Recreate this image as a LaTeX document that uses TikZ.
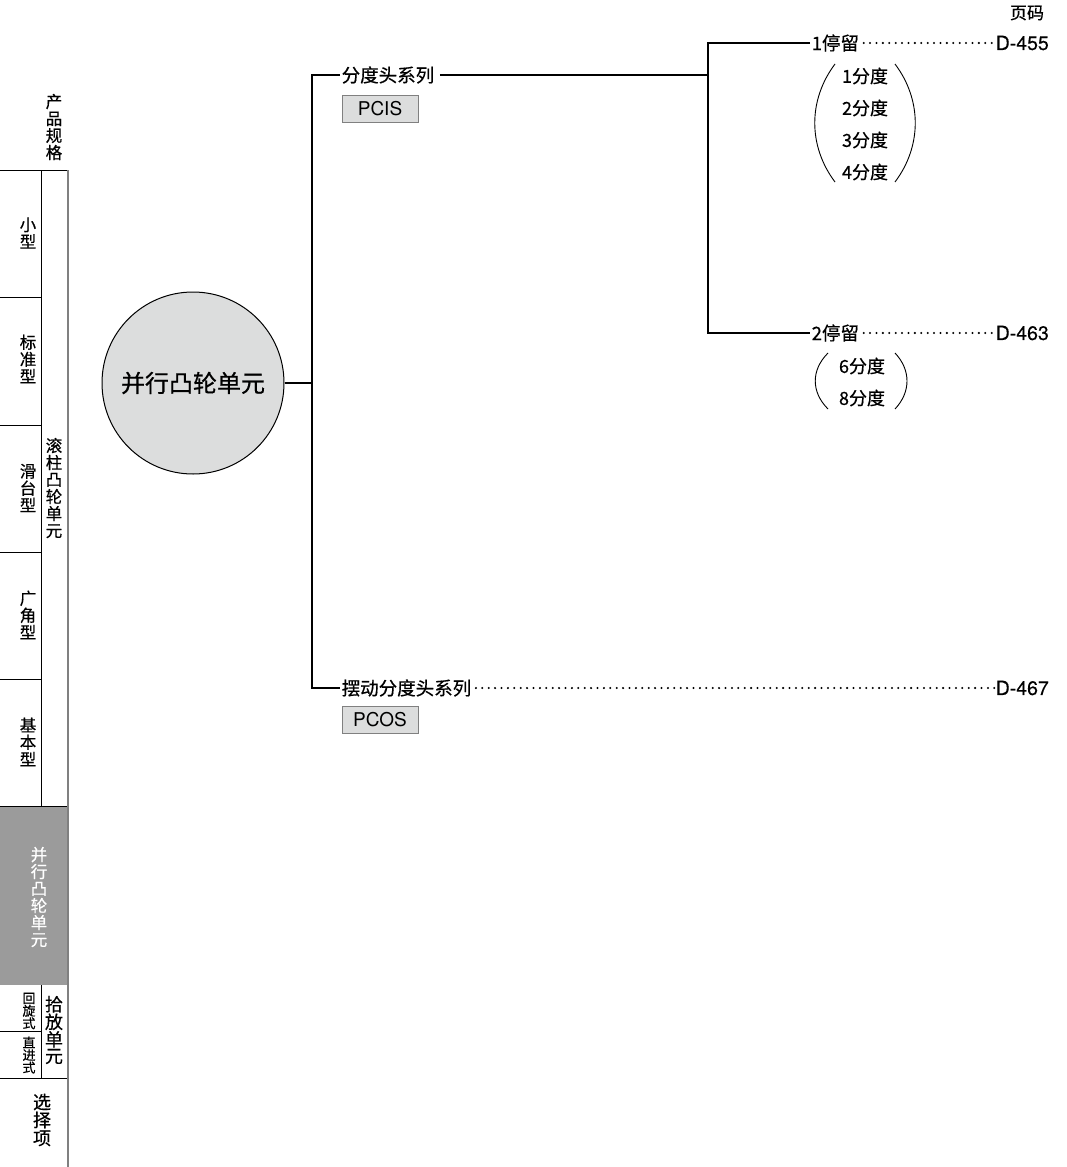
\documentclass[tikz,border=0pt]{standalone}
\usepackage{fontspec}
\setmainfont{Noto Sans CJK SC}[FakeBold=0.6]
\newfontfamily\latinfont{TeX Gyre Heros}[FakeBold=0.4]
\newfontfamily\boxfont{TeX Gyre Heros}
\definecolor{boxgray}{HTML}{DCDDDD}
\definecolor{sidegray}{HTML}{9B9B9B}
\definecolor{linegray}{HTML}{808080}
\tikzset{
  x=1pt, y=-1pt,
  conn/.style={line width=1.1pt},
  leader/.style={line width=2.3pt, dash pattern=on 0pt off 6.4pt, line cap=round},
  lbl/.style={inner sep=1.5pt, font=\fontsize{18.5}{20}\selectfont},
  sub/.style={inner sep=0pt, font=\fontsize{18}{20}\selectfont},
  pg/.style={inner sep=1pt, font=\latinfont\fontsize{19.5}{21}\selectfont},
  codebox/.style={draw=linegray, fill=boxgray, line width=0.8pt, minimum width=76pt, minimum height=27pt, inner sep=0pt, font=\boxfont\fontsize{19}{21}\selectfont},
  side/.style={align=center, inner sep=0pt, font=\fontsize{16.5}{17}\selectfont},
  sidesmall/.style={align=center, inner sep=0pt, font=\fontsize{13}{12.5}\selectfont},
  sidebig/.style={align=center, inner sep=0pt, font=\fontsize{18}{16.5}\selectfont},
  sidebig2/.style={align=center, inner sep=0pt, font=\fontsize{18}{18}\selectfont},
  sep/.style={line width=0.8pt},
  paren/.style={line width=0.9pt},
}
\begin{document}
\begin{tikzpicture}
\useasboundingbox (0,0) rectangle (1066,1167);
% ---------------- sidebar ----------------
\fill[sidegray] (0,806) rectangle (68,985);
\draw[sep] (0,170) -- (68,170);
\foreach \yy in {297,425,552,679} \draw[sep] (0,\yy) -- (41,\yy);
\draw[sep] (0,806) -- (68,806);
\draw[sep] (41,170) -- (41,806);
\draw[sep] (0,1031) -- (41,1031);
\draw[sep] (0,1078) -- (68,1078);
\draw[sep] (41,985) -- (41,1078);
\draw[linegray, line width=1.8pt] (68,170) -- (68,1167);
\node[side] (sb0) at (54,127) {产\\品\\规\\格};
\node[side] (sb1) at (28,233) {小\\型};
\node[side] (sb2) at (28,359) {标\\准\\型};
\node[side] (sb3) at (28,488) {滑\\台\\型};
\node[side] (sb4) at (28,615) {广\\角\\型};
\node[side] (sb5) at (28,742) {基\\本\\型};
\node[side] (sb6) at (54,488) {滚\\柱\\凸\\轮\\单\\元};
\node[side, text=white] (sb7) at (39,897) {并\\行\\凸\\轮\\单\\元};
\node[sidesmall] (sb8) at (29,1011) {回\\旋\\式};
\node[sidesmall] (sb9) at (29,1055) {直\\进\\式};
\node[sidebig] (sb10) at (54,1030) {拾\\放\\单\\元};
\node[sidebig2] (sb11) at (42,1120) {选\\择\\项};
% ---------------- main tree ----------------
\node[circle, draw, fill=boxgray, line width=1pt, minimum size=182pt, inner sep=0pt,
      font=\fontsize{24}{26}\selectfont] (circ) at (193,383) {并行凸轮单元};
\coordinate (tr) at (312,383);
\node[lbl, anchor=west] (n1) at (340,75) {分度头系列};
\node[lbl, anchor=west] (n2) at (340,688) {摆动分度头系列};
\node[codebox] (c1) at (380,108.5) {PCIS};
\node[codebox] (c2) at (380,719.5) {PCOS};
\draw[conn] (circ.east) -- (circ.east -| tr);
\draw[conn] (n1.west) -| (tr) |- (n2.west);
\coordinate (br) at (708,75);
\draw[conn] ([xshift=4pt]n1.east) -- (br);
\node[lbl, anchor=west] (s1) at (810,43) {1停留};
\node[lbl, anchor=west] (s2) at (810,333) {2停留};
\draw[conn] (s1.west) -| (br) |- (s2.west);
\node[pg, anchor=east] (p1) at (1050,43) {D-455};
\node[pg, anchor=east] (p2) at (1050,333) {D-463};
\node[pg, anchor=east] (p3) at (1050,688) {D-467};
\node[lbl, font=\fontsize{17}{19}\selectfont] (hdr) at (1027,13) {页码};
\draw[leader] ([xshift=3pt]s1.east) -- (p1.west);
\draw[leader] ([xshift=3pt]s2.east) -- (p2.west);
\draw[leader] ([xshift=3pt]n2.east) -- (p3.west);
% sub items
\node[sub] (d1) at (865,76) {1分度};
\node[sub] (d2) at (865,108) {2分度};
\node[sub] (d3) at (865,140) {3分度};
\node[sub] (d4) at (865,172) {4分度};
\node[sub] (d6) at (862,366) {6分度};
\node[sub] (d8) at (862,398) {8分度};
\draw[paren] (835,64) .. controls (808,100) and (808,146) .. (835,182);
\draw[paren] (895,64) .. controls (922,100) and (922,146) .. (895,182);
\draw[paren] (828,353) .. controls (811,370) and (811,392) .. (828,409);
\draw[paren] (895,353) .. controls (911,370) and (911,392) .. (895,409);
\end{tikzpicture}
\end{document}
